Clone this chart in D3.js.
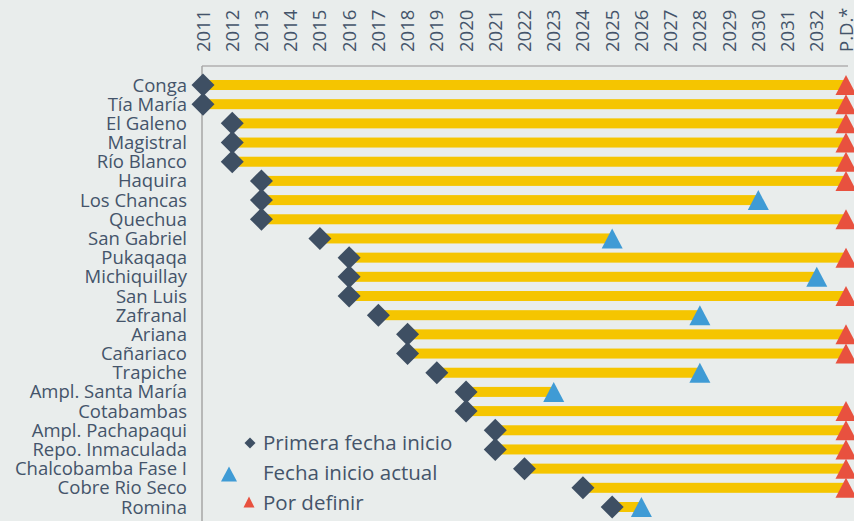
<!DOCTYPE html>
<html>
<meta charset="UTF-8">

<head>
  <script src="https://cdn.jsdelivr.net/npm/d3@7/dist/d3.min.js"></script>
  <style>
    body { margin: 0; background: #e9edec; }
    text { font-family: "Open Sans", sans-serif; fill: #44546a; }
  </style>
</head>

<body>
  <div id="viz">
    <svg style="width:854px;height:521px;"></svg>
  </div>

  <script type="text/javascript">
    const years = ["2011", "2012", "2013", "2014", "2015", "2016", "2017", "2018", "2019", "2020", "2021",
      "2022", "2023", "2024", "2025", "2026", "2027", "2028", "2029", "2030", "2031", "2032", "P.D.*"]

    const projects = ["Conga", "Tía María", "El Galeno", "Magistral", "Río Blanco", "Haquira", "Los Chancas",
      "Quechua", "San Gabriel", "Pukaqaqa", "Michiquillay", "San Luis", "Zafranal", "Ariana", "Cañariaco",
      "Trapiche", "Ampl. Santa María", "Cotabambas", "Ampl. Pachapaqui", "Repo. Inmaculada",
      "Chalcobamba Fase I", "Cobre Rio Seco", "Romina"]

    const firstStart = ["2011", "2011", "2012", "2012", "2012", "2013", "2013", "2013", "2015", "2016", "2016",
      "2016", "2017", "2018", "2018", "2019", "2020", "2020", "2021", "2021", "2022", "2024", "2025"]

    const currentStart = ["P.D.*", "P.D.*", "P.D.*", "P.D.*", "P.D.*", "P.D.*", "2030", "P.D.*", "2025", "P.D.*",
      "2032", "P.D.*", "2028", "P.D.*", "P.D.*", "2028", "2023", "P.D.*", "P.D.*", "P.D.*", "P.D.*", "P.D.*", "2026"]

    const legendLabels = ["Primera fecha inicio", "Fecha inicio actual", "Por definir"]

    const rows = projects.map((p, i) => ({ name: p, start: firstStart[i], end: currentStart[i] }))

    const svg = d3.select("svg")

    const x = d3.scalePoint().domain(years).range([203, 846])
    const y = d3.scalePoint().domain(projects).range([85, 507])

    // top axis line and left axis line
    svg.append("line")
      .attr("x1", 202).attr("x2", 848).attr("y1", 66).attr("y2", 66)
      .style("stroke", "#bfbfbf").style("stroke-width", "2px")
    svg.append("line")
      .attr("x1", 202).attr("x2", 202).attr("y1", 66).attr("y2", 521)
      .style("stroke", "#a6a6a6").style("stroke-width", "1.5px")

    // year labels (rotated)
    svg.append("g")
      .selectAll("text")
      .data(years)
      .enter()
      .append("text")
      .attr("transform", d => `translate(${x(d) + 6.5},52) rotate(-90)`)
      .style("font-size", "18.5px")
      .text(d => d)

    // project labels
    svg.append("g")
      .selectAll("text")
      .data(projects)
      .enter()
      .append("text")
      .attr("x", 187)
      .attr("y", d => y(d) + 6.5)
      .style("text-anchor", "end")
      .style("font-size", "18.5px")
      .text(d => d)

    // bars
    svg.append("g")
      .selectAll("rect")
      .data(rows)
      .enter()
      .append("rect")
      .attr("x", d => x(d.start))
      .attr("y", d => y(d.name) - 5)
      .attr("width", d => x(d.end) - x(d.start))
      .attr("height", 10)
      .style("fill", "#f5c500")

    const tri = (w, h) => `M0,${-h / 2}L${w / 2},${h / 2}L${-w / 2},${h / 2}Z`
    const diamond = r => `M0,${-r}L${r},0L0,${r}L${-r},0Z`

    // end markers
    svg.append("g")
      .selectAll("path")
      .data(rows)
      .enter()
      .append("path")
      .attr("transform", d => `translate(${x(d.end)},${y(d.name)})`)
      .attr("d", tri(21, 20))
      .style("fill", d => d.end === "P.D.*" ? "#e8513f" : "#3f9bd5")

    // start markers
    svg.append("g")
      .selectAll("path")
      .data(rows)
      .enter()
      .append("path")
      .attr("transform", d => `translate(${x(d.start)},${y(d.name)})`)
      .attr("d", diamond(11.5))
      .style("fill", "#3e4f63")

    // legend
    const legend = svg.append("g")
    legend.append("path").attr("transform", "translate(250,443)").attr("d", diamond(5.5)).style("fill", "#3e4f63")
    legend.append("path").attr("transform", "translate(229,474)").attr("d", tri(16, 15)).style("fill", "#3f9bd5")
    legend.append("path").attr("transform", "translate(249,502)").attr("d", tri(11, 11)).style("fill", "#e8513f")
    legend.selectAll("text.leg")
      .data(legendLabels)
      .enter()
      .append("text")
      .attr("class", "leg")
      .attr("x", 263)
      .attr("y", (d, i) => 450 + i * 30)
      .style("font-size", "20.5px")
      .text(d => d)
  </script>
</body>

</html>
